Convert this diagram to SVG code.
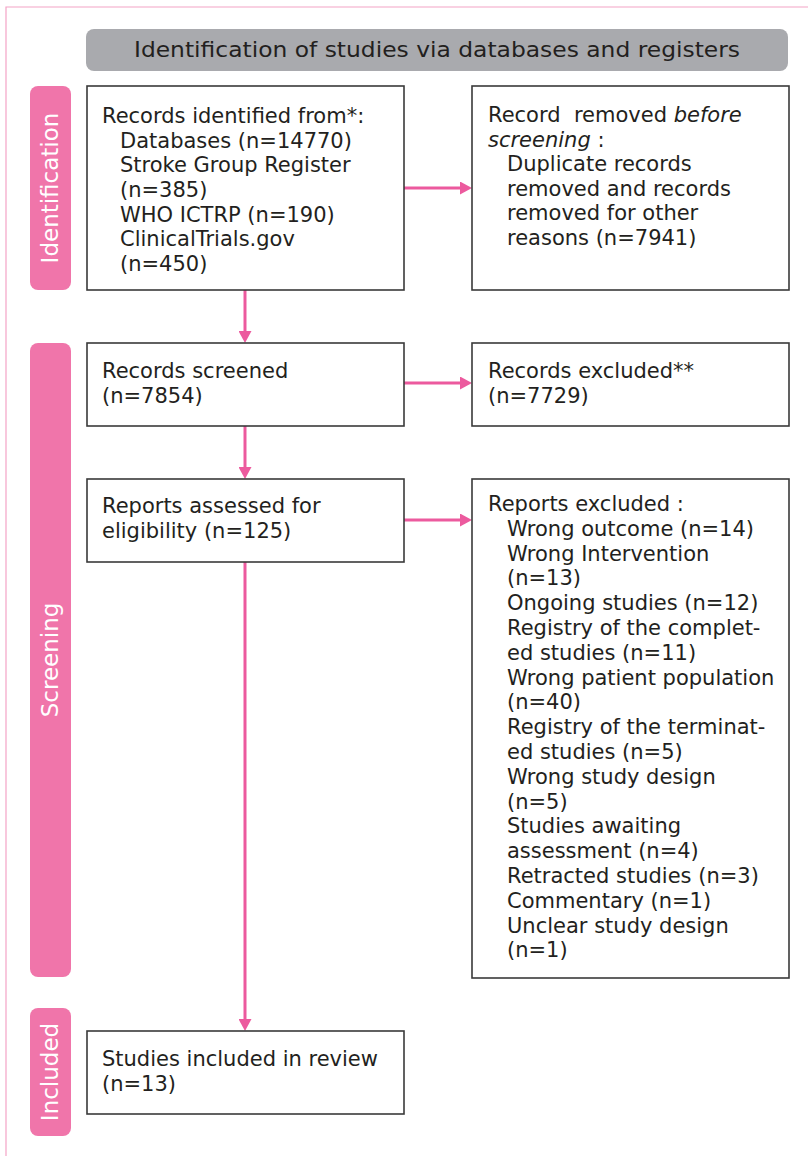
<svg xmlns="http://www.w3.org/2000/svg" width="808" height="1156" viewBox="0 0 808 1156">
  <style>
    .frame { fill: none; stroke: #f4a3c6; stroke-width: 1.2; }
    .header { fill: #a9aaae; }
    .header-text { font-family: "DejaVu Sans", "Noto Sans CJK JP", sans-serif; font-size: 21px; fill: #231f20; }
    .phase { fill: #f075aa; }
    .phase-text { font-family: "DejaVu Sans", "Noto Sans CJK JP", sans-serif; font-size: 23px; fill: #ffffff; text-anchor: middle; }
    .box { fill: #ffffff; stroke: #3a3a3a; stroke-width: 1.6; }
    .label { font-family: "DejaVu Sans", "Noto Sans CJK JP", sans-serif; font-size: 21px; fill: #231f20; }
    .it { font-style: italic; }
    .flow { stroke: #ec5a9e; stroke-width: 3; fill: none; marker-end: url(#head); }
  </style>
  <defs>
    <marker id="head" markerUnits="userSpaceOnUse" markerWidth="12" markerHeight="13" refX="6" refY="6.5" orient="auto">
      <path d="M0,0 L12,6.5 L0,13 Z" fill="#ec5a9e"/>
    </marker>
  </defs>

  <!-- page frame -->
  <path class="frame" d="M6,1156 V7 H808"/>

  <!-- title bar -->
  <g id="title">
    <rect class="header" x="86" y="29" width="702" height="42" rx="8"/>
    <text class="header-text" x="437" y="57" text-anchor="middle" textLength="606" lengthAdjust="spacingAndGlyphs">Identification of studies via databases and registers</text>
  </g>

  <!-- phase labels -->
  <g id="phase-identification">
    <rect class="phase" x="30" y="86" width="41" height="204" rx="8"/>
    <text class="phase-text" transform="translate(58,188) rotate(-90)">Identification</text>
  </g>
  <g id="phase-screening">
    <rect class="phase" x="30" y="343" width="41" height="634" rx="8"/>
    <text class="phase-text" transform="translate(58,660) rotate(-90)">Screening</text>
  </g>
  <g id="phase-included">
    <rect class="phase" x="30" y="1008" width="41" height="128" rx="8"/>
    <text class="phase-text" transform="translate(58,1072) rotate(-90)">Included</text>
  </g>

  <!-- connectors -->
  <g id="connectors">
    <line class="flow" x1="404" y1="188" x2="466" y2="188"/>
    <line class="flow" x1="245" y1="290" x2="245" y2="337"/>
    <line class="flow" x1="404" y1="383" x2="466" y2="383"/>
    <line class="flow" x1="245" y1="426" x2="245" y2="473"/>
    <line class="flow" x1="404" y1="520" x2="466" y2="520"/>
    <line class="flow" x1="245" y1="562" x2="245" y2="1025"/>
  </g>

  <!-- nodes -->
  <g id="records-identified">
    <rect class="box" x="87" y="86" width="317" height="204"/>
    <text class="label">
      <tspan x="102" y="123">Records identified from*:</tspan>
      <tspan x="120" y="147.7">Databases (n=14770)</tspan>
      <tspan x="120" y="172.3">Stroke Group Register</tspan>
      <tspan x="120" y="197">(n=385)</tspan>
      <tspan x="120" y="221.7">WHO ICTRP (n=190)</tspan>
      <tspan x="120" y="246.3">ClinicalTrials.gov</tspan>
      <tspan x="120" y="271">(n=450)</tspan>
    </text>
  </g>

  <g id="records-removed">
    <rect class="box" x="472" y="86" width="317" height="204"/>
    <text class="label">
      <tspan x="488" y="122">Record&#160; removed <tspan class="it">before</tspan></tspan>
      <tspan x="488" y="146.5"><tspan class="it">screening</tspan> :</tspan>
      <tspan x="507" y="171">Duplicate records</tspan>
      <tspan x="507" y="195.5">removed and records</tspan>
      <tspan x="507" y="220">removed for other</tspan>
      <tspan x="507" y="244.5">reasons (n=7941)</tspan>
    </text>
  </g>

  <g id="records-screened">
    <rect class="box" x="87" y="343" width="317" height="83"/>
    <text class="label">
      <tspan x="102" y="378">Records screened</tspan>
      <tspan x="102" y="402.5">(n=7854)</tspan>
    </text>
  </g>

  <g id="records-excluded">
    <rect class="box" x="472" y="343" width="317" height="83"/>
    <text class="label">
      <tspan x="488" y="378">Records excluded**</tspan>
      <tspan x="488" y="402.5">(n=7729)</tspan>
    </text>
  </g>

  <g id="reports-assessed">
    <rect class="box" x="87" y="479" width="317" height="83"/>
    <text class="label">
      <tspan x="102" y="513">Reports assessed for</tspan>
      <tspan x="102" y="537.5">eligibility (n=125)</tspan>
    </text>
  </g>

  <g id="reports-excluded">
    <rect class="box" x="472" y="479" width="317" height="499"/>
    <text class="label">
      <tspan x="488" y="511">Reports excluded :</tspan>
      <tspan x="507" y="535.8">Wrong outcome (n=14)</tspan>
      <tspan x="507" y="560.6">Wrong Intervention</tspan>
      <tspan x="507" y="585.4">(n=13)</tspan>
      <tspan x="507" y="610.2">Ongoing studies (n=12)</tspan>
      <tspan x="507" y="635">Registry of the complet-</tspan>
      <tspan x="507" y="659.8">ed studies (n=11)</tspan>
      <tspan x="507" y="684.6">Wrong patient population</tspan>
      <tspan x="507" y="709.4">(n=40)</tspan>
      <tspan x="507" y="734.2">Registry of the terminat-</tspan>
      <tspan x="507" y="759">ed studies (n=5)</tspan>
      <tspan x="507" y="783.8">Wrong study design</tspan>
      <tspan x="507" y="808.6">(n=5)</tspan>
      <tspan x="507" y="833.4">Studies awaiting</tspan>
      <tspan x="507" y="858.2">assessment (n=4)</tspan>
      <tspan x="507" y="883">Retracted studies (n=3)</tspan>
      <tspan x="507" y="907.8">Commentary (n=1)</tspan>
      <tspan x="507" y="932.6">Unclear study design</tspan>
      <tspan x="507" y="957.4">(n=1)</tspan>
    </text>
  </g>

  <g id="studies-included">
    <rect class="box" x="87" y="1031" width="317" height="83"/>
    <text class="label">
      <tspan x="102" y="1066">Studies included in review</tspan>
      <tspan x="102" y="1090.5">(n=13)</tspan>
    </text>
  </g>
</svg>
